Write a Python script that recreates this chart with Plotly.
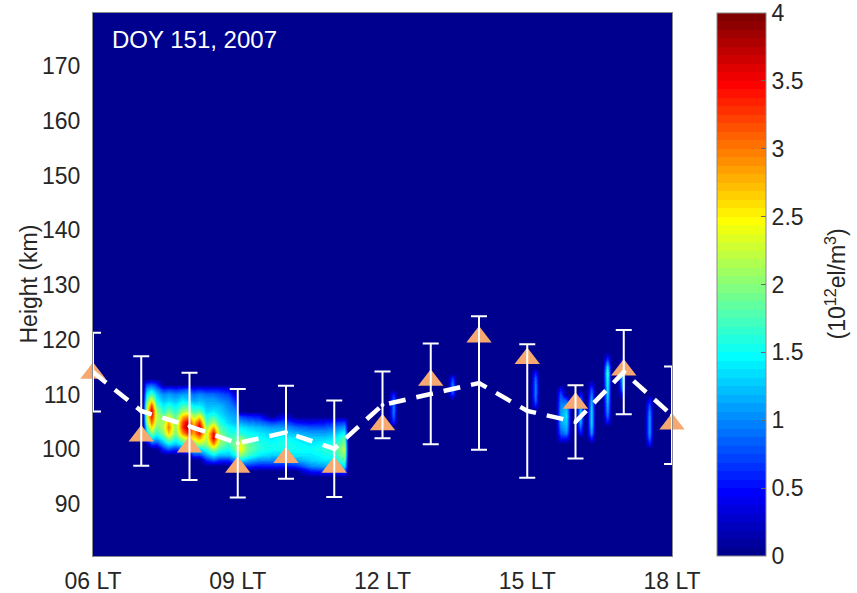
import numpy as np
import plotly.graph_objects as go

# ---------------- data ----------------
HOURS = [6, 7, 8, 9, 10, 11, 12, 13, 14, 15, 16, 17, 18]
PEAK_HEIGHT = [113.9, 102.4, 100.4, 96.7, 98.5, 96.7, 104.5, 112.6, 120.5, 116.6, 108.4, 114.5, 104.6]
MEAN_HEIGHT = [114.1, 107.0, 104.2, 101.1, 103.1, 100.1, 108.1, 110.1, 112.1, 107.0, 105.0, 114.1, 106.2]
MEAN_ERR = [7.2, 10.0, 9.8, 9.9, 8.5, 8.8, 6.1, 9.2, 12.2, 12.2, 6.7, 7.7, 8.9]

X_TICK_VALS = [6, 9, 12, 15, 18]
X_TICK_TEXT = ["06 LT", "09 LT", "12 LT", "15 LT", "18 LT"]
Y_TICK_VALS = [90, 100, 110, 120, 130, 140, 150, 160, 170]
CB_TICK_VALS = [0, 0.5, 1, 1.5, 2, 2.5, 3, 3.5, 4]
CB_TICK_TEXT = ["0", "0.5", "1", "1.5", "2", "2.5", "3", "3.5", "4"]

# electron density profiles (10^12 el/m^3): time (LT), lowest height (km), values upward at 1 km steps
GRID_HEIGHTS = list(range(93, 121))
PROFILE_TIMES = [
    7.02, 7.1, 7.2, 7.32, 7.45, 7.55, 7.7, 7.85, 7.95, 8.08, 8.2, 8.35, 8.5, 8.62, 8.8,
    8.95, 9.05, 9.2, 9.45, 9.7, 9.95, 10.2, 10.5, 10.8, 11.0, 11.2, 11.3,
    12.12, 12.22, 12.31, 13.35, 13.44, 13.53,
    15.07, 15.16, 15.25, 15.58, 15.68, 15.8, 15.92, 15.99, 16.09, 16.19,
    16.22, 16.32, 16.42, 16.55, 16.65, 16.75, 16.86, 16.96, 17.06,
    17.42, 17.52, 17.62,
]
PROFILE_BASES = [
    None, 102, 101, 101, 100, 100, 100, 100, 100, 99, 99, 98, 98, 98, 98,
    97, 97, 97, 97, 97, 97, 97, 96, 96, 96, 96, None,
    None, 105, None, None, 110, None,
    None, 108, None, None, 102, 102, None, None, 103, None,
    None, 102, None, None, 105, None, None, 110, None,
    None, 101, None,
]
PROFILE_VALUES = [
    [],
    [0.8, 1.3, 1.6, 1.9, 2.1, 2.2, 2.0, 1.7, 1.4, 1.1, 0.7],
    [0.7, 1.4, 2.0, 2.6, 3.1, 3.5, 3.7, 3.2, 2.5, 1.8, 1.3, 0.8],
    [0.6, 1.2, 1.6, 1.9, 2.1, 2.2, 2.1, 1.8, 1.5, 1.3, 1.0, 0.6],
    [0.6, 1.1, 1.6, 2.0, 2.2, 2.1, 1.9, 1.6, 1.4, 1.2, 1.0, 0.6],
    [0.8, 1.4, 2.1, 2.7, 3.0, 2.8, 2.3, 1.9, 1.6, 1.3, 1.1, 0.7],
    [0.6, 1.2, 1.6, 1.9, 2.0, 1.9, 1.8, 1.6, 1.4, 1.2, 1.0, 0.6],
    [0.8, 1.5, 2.2, 2.9, 3.3, 3.2, 2.7, 2.1, 1.7, 1.4, 1.1, 0.7],
    [1.0, 1.7, 2.5, 3.3, 3.8, 3.6, 2.9, 2.2, 1.7, 1.3, 1.1, 0.8],
    [0.7, 1.3, 1.9, 2.5, 2.8, 2.9, 2.6, 2.1, 1.7, 1.4, 1.1, 0.9, 0.5],
    [0.7, 1.3, 2.1, 2.8, 3.4, 3.7, 3.3, 2.5, 1.8, 1.4, 1.2, 1.0, 0.6],
    [0.6, 1.1, 1.6, 2.0, 2.2, 2.2, 2.0, 1.7, 1.5, 1.3, 1.2, 1.1, 0.9, 0.5],
    [0.8, 1.4, 2.1, 2.9, 3.6, 3.5, 2.8, 2.1, 1.7, 1.4, 1.2, 1.1, 0.9, 0.5],
    [0.6, 1.2, 1.7, 2.0, 2.2, 2.0, 1.8, 1.6, 1.4, 1.3, 1.2, 1.0, 0.8, 0.5],
    [0.6, 1.2, 1.5, 1.7, 1.8, 1.6, 1.5, 1.3, 1.2, 1.1, 1.0, 0.9, 0.7, 0.4],
    [0.5, 1.0, 1.5, 1.9, 2.0, 1.8, 1.6, 1.4, 1.2, 1.1, 1.0, 0.8, 0.6, 0.3],
    [0.7, 1.4, 2.0, 2.5, 2.4, 2.0, 1.6, 1.4, 1.1, 0.7],
    [0.6, 1.2, 1.7, 1.9, 1.9, 1.7, 1.5, 1.3, 1.0, 0.6],
    [0.5, 1.0, 1.4, 1.6, 1.6, 1.5, 1.4, 1.2, 0.9, 0.5],
    [0.5, 1.0, 1.3, 1.5, 1.5, 1.4, 1.3, 1.1, 0.7],
    [0.5, 1.0, 1.3, 1.5, 1.6, 1.5, 1.3, 1.1, 0.8, 0.4],
    [0.6, 1.1, 1.4, 1.5, 1.5, 1.4, 1.2, 0.9, 0.5],
    [0.5, 1.0, 1.3, 1.4, 1.5, 1.4, 1.3, 1.1, 0.8, 0.4],
    [0.6, 1.1, 1.4, 1.5, 1.6, 1.5, 1.3, 1.1, 0.8, 0.5],
    [0.6, 1.1, 1.4, 1.6, 1.7, 1.6, 1.4, 1.2, 0.9, 0.6],
    [0.8, 1.4, 1.8, 2.0, 2.2, 2.0, 1.8, 1.5, 1.1, 0.7],
    [],
    [], [0.6, 0.9, 1.0, 1.0, 0.9, 0.6], [],
    [], [0.7, 1.0, 1.0, 0.7], [],
    [], [0.6, 0.9, 1.0, 1.0, 1.0, 0.9, 0.6], [],
    [], [0.5, 0.8, 1.0, 1.1, 1.1, 1.1, 1.0, 0.9, 0.8, 0.5],
    [0.5, 1.0, 1.2, 1.3, 1.4, 1.3, 1.1, 0.8], [],
    [], [0.5, 0.9, 1.2, 1.3, 1.3, 1.2, 1.0, 0.5], [],
    [], [0.6, 1.1, 1.3, 1.4, 1.4, 1.4, 1.3, 1.2, 1.0, 0.8, 0.4], [],
    [], [0.5, 0.9, 1.1, 1.2, 1.3, 1.4, 1.5, 1.6, 1.7, 1.8, 1.5, 1.0, 0.4], [],
    [], [0.5, 1.0, 1.2, 1.3, 1.3, 1.0, 0.5], [],
    [], [0.5, 0.9, 1.1, 1.1, 1.1, 1.1, 1.0, 0.8, 0.5], [],
]

# ---------------- build density grid from the profiles ----------------
z = np.zeros((len(GRID_HEIGHTS), len(PROFILE_TIMES)))
for j, (base, vals) in enumerate(zip(PROFILE_BASES, PROFILE_VALUES)):
    for k, v in enumerate(vals):
        z[GRID_HEIGHTS.index(base + k), j] = v


# MATLAB jet(64) colormap as a discrete colorscale (styling)
def jet64():
    n = 16
    u = [i / n for i in range(1, n + 1)] + [1.0] * (n - 1) + [i / n for i in range(n, 0, -1)]
    m = 64
    J = [[0.0, 0.0, 0.0] for _ in range(m)]
    g0 = 8
    for k in range(len(u)):
        g = g0 + k + 1
        r = g + n
        b = g - n
        if 1 <= r <= m:
            J[r - 1][0] = u[k]
        if 1 <= g <= m:
            J[g - 1][1] = u[k]
        if 1 <= b <= m:
            J[b - 1][2] = u[k]
    return ["rgb(%d,%d,%d)" % tuple(round(c * 255) for c in row) for row in J]


JET = jet64()
colorscale = []
for i, c in enumerate(JET):
    colorscale.append([i / 64, c])
    colorscale.append([(i + 1) / 64, c])

FONT = "Liberation Sans, Arial, sans-serif"
TXT = "#262626"
FS = 23

fig = go.Figure()
fig.add_trace(go.Heatmap(
    x=PROFILE_TIMES, y=GRID_HEIGHTS, z=z,
    zmin=0, zmax=4, zsmooth="best", colorscale=colorscale,
    hoverinfo="skip",
    colorbar=dict(
        x=(717 - 93) / 579, xanchor="left", xpad=0,
        y=0.5, yanchor="middle", ypad=0, len=1, lenmode="fraction",
        thickness=49, thicknessmode="pixels",
        outlinecolor="#8a8a8a", outlinewidth=1,
        tickvals=CB_TICK_VALS, ticktext=CB_TICK_TEXT,
        ticks="inside", ticklen=5, tickcolor="#666666",
        ticklabeloverflow="allow",
        tickfont=dict(size=FS, color=TXT, family=FONT),
    ),
))

fig.add_trace(go.Scatter(
    x=HOURS, y=PEAK_HEIGHT, mode="markers",
    marker=dict(symbol="triangle-up", size=22, color="rgb(245,168,112)"),
    cliponaxis=False, hoverinfo="skip", showlegend=False,
))

fig.add_trace(go.Scatter(
    x=HOURS, y=MEAN_HEIGHT, mode="lines+markers",
    line=dict(color="white", width=4.5, dash="17px,11px"),
    marker=dict(symbol="circle", size=4, color="white"),
    error_y=dict(type="data", array=MEAN_ERR, color="white", thickness=2, width=8),
    hoverinfo="skip", showlegend=False,
))

fig.update_layout(
    width=857, height=593,
    margin=dict(l=93, r=185, t=13, b=37, autoexpand=False),
    paper_bgcolor="white", plot_bgcolor=JET[0],
    font=dict(family=FONT, size=FS, color=TXT),
    showlegend=False,
    xaxis=dict(
        range=[6, 18], tickvals=X_TICK_VALS, ticktext=X_TICK_TEXT,
        showgrid=False, zeroline=False, showline=True, mirror=True,
        linecolor="#8a8a8a", linewidth=1, ticks="", ticklabelstandoff=4,
        automargin=False,
        tickfont=dict(size=FS, color=TXT, family=FONT),
    ),
    yaxis=dict(
        range=[80.5, 179.7], tickvals=Y_TICK_VALS,
        showgrid=False, zeroline=False, showline=True, mirror=True,
        linecolor="#8a8a8a", linewidth=1, ticks="", ticklabelstandoff=7,
        automargin=False,
        tickfont=dict(size=FS, color=TXT, family=FONT),
    ),
    annotations=[
        dict(text="Height (km)", xref="paper", yref="paper",
             x=(28 - 93) / 579, y=0.5, xanchor="center", yanchor="middle",
             textangle=-90, showarrow=False,
             font=dict(size=FS, color=TXT, family=FONT)),
        dict(text="DOY 151, 2007", xref="paper", yref="paper",
             x=17 / 579, y=(556 - 40) / 543, xanchor="left", yanchor="middle",
             showarrow=False, font=dict(size=24, color="white", family=FONT)),
        dict(text="(10<sup>12</sup>el/m<sup>3</sup>)", xref="paper", yref="paper",
             x=(835 - 93) / 579, y=0.5, xanchor="center", yanchor="middle",
             textangle=-90, showarrow=False,
             font=dict(size=FS, color=TXT, family=FONT)),
    ],
)

fig.write_html("out.html")
